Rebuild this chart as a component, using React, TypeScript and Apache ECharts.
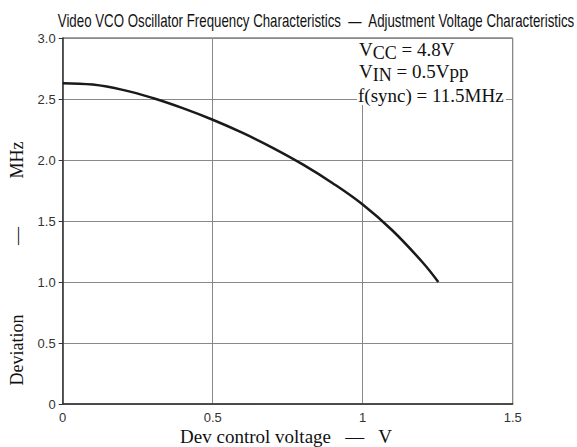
import React, { useEffect, useRef } from "react";
import * as echarts from "echarts";

const titleText = "Video VCO Oscillator Frequency Characteristics  —  Adjustment Voltage Characteristics";
const xAxisName = "Dev control voltage   —   V";
const yAxisNameParts = ["Deviation", "—", "MHz"];
const xTickLabels = ["0", "0.5", "1", "1.5"];
const yTickLabels = ["0", "0.5", "1.0", "1.5", "2.0", "2.5", "3.0"];
const controlVoltage = [0, 0.1, 0.2, 0.3, 0.4, 0.5, 0.6, 0.7, 0.8, 0.9, 1.0, 1.1, 1.2, 1.252];
const deviation = [2.63, 2.618, 2.575, 2.508, 2.425, 2.33, 2.222, 2.1, 1.964, 1.81, 1.635, 1.42, 1.16, 1.0];
const noteVcc = ["V", "CC", " = 4.8V"];
const noteVin = ["V", "IN", " = 0.5Vpp"];
const noteSync = "f(sync) = 11.5MHz";

const SERIF = '"Liberation Serif", "Times New Roman", serif';
const SANS = '"Liberation Sans", Arial, sans-serif';
const NARROW = '"Liberation Sans Narrow", "Arial Narrow", "Liberation Sans", sans-serif';

function measure(text: string, font: string): number {
  const c = document.createElement("canvas");
  const ctx = c.getContext("2d");
  if (!ctx) return 0;
  ctx.font = font;
  return ctx.measureText(text).width;
}

export default function App() {
  const ref = useRef<HTMLDivElement>(null);
  useEffect(() => {
    document.body.style.margin = "0";
    if (!ref.current) return;
    const chart = echarts.init(ref.current, null, { renderer: "svg" });
    const titleW = measure(titleText, `19px ${NARROW}`) || 518;
    const titleScale = 518 / titleW;
    const data = controlVoltage.map((v, i) => [v, deviation[i]]);
    const rich = {
      m: { fontSize: 19, fontFamily: SERIF, fill: "#111", verticalAlign: "top" },
      s: { fontSize: 18, fontFamily: SERIF, fill: "#111", verticalAlign: "top", padding: [4, 0, 0, 0] },
    };
    const yNameCenters = [350, 236, 160];
    chart.setOption({
      animation: false,
      backgroundColor: "#fff",
      grid: {
        left: 62.7,
        right: 64.3,
        top: 38,
        bottom: 43,
        show: true,
        borderColor: "#444",
        borderWidth: 1,
      },
      xAxis: {
        type: "value",
        min: 0,
        max: 1.5,
        interval: 0.5,
        axisLine: { show: true, onZero: false, lineStyle: { color: "#333", width: 1.5 } },
        axisTick: { show: false },
        axisLabel: {
          margin: 7,
          fontSize: 13,
          fontFamily: SANS,
          color: "#333",
          formatter: (v: number) => xTickLabels[Math.round(v / 0.5)] ?? "",
        },
        splitLine: { show: true, lineStyle: { color: "#888", width: 1 } },
      },
      yAxis: {
        type: "value",
        min: 0,
        max: 3,
        interval: 0.5,
        axisLine: { show: true, onZero: false, lineStyle: { color: "#333", width: 1.5 } },
        axisTick: { show: true, length: 4, lineStyle: { color: "#333" } },
        axisLabel: {
          margin: 7,
          fontSize: 13,
          fontFamily: SANS,
          color: "#333",
          formatter: (v: number) => yTickLabels[Math.round(v / 0.5)] ?? "",
        },
        splitLine: { show: true, lineStyle: { color: "#888", width: 1 } },
      },
      series: [
        {
          type: "line",
          data,
          smooth: 0.4,
          showSymbol: false,
          symbol: "none",
          lineStyle: { color: "#1a1a1a", width: 2.5 },
        },
      ],
      graphic: [
        {
          type: "text",
          x: 316,
          y: 20,
          z: 100,
          scaleX: titleScale,
          style: {
            text: titleText,
            font: `19px ${NARROW}`,
            fill: "#111",
            align: "center",
            verticalAlign: "middle",
          },
        },
        {
          type: "rect",
          z: 100,
          shape: { x: 357, y: 39, width: 149, height: 66 },
          style: { fill: "#fff", stroke: null },
        },
        {
          type: "text",
          x: 359,
          y: 40,
          z: 101,
          style: {
            text: `{m|${noteVcc[0]}}{s|${noteVcc[1]}}{m|${noteVcc[2]}}`,
            rich,
            verticalAlign: "top",
          },
        },
        {
          type: "text",
          x: 359,
          y: 62,
          z: 101,
          style: {
            text: `{m|${noteVin[0]}}{s|${noteVin[1]}}{m|${noteVin[2]}}`,
            rich,
            verticalAlign: "top",
          },
        },
        {
          type: "text",
          x: 358,
          y: 86,
          z: 101,
          style: {
            text: noteSync,
            font: `19px ${SERIF}`,
            fill: "#111",
            verticalAlign: "top",
          },
        },
        {
          type: "text",
          x: 286,
          y: 436,
          z: 100,
          style: {
            text: xAxisName,
            font: `19px ${SERIF}`,
            fill: "#111",
            align: "center",
            verticalAlign: "middle",
          },
        },
        ...yAxisNameParts.map((t, i) => ({
          type: "text",
          x: 17,
          y: yNameCenters[i],
          z: 100,
          rotation: Math.PI / 2,
          style: {
            text: t,
            font: `18px ${SERIF}`,
            fill: "#111",
            align: "center",
            verticalAlign: "middle",
          },
        })),
      ],
    });
    return () => chart.dispose();
  }, []);
  return (
    <div
      ref={ref}
      style={{ position: "fixed", left: 0, top: 0, width: 577, height: 447 }}
    />
  );
}
